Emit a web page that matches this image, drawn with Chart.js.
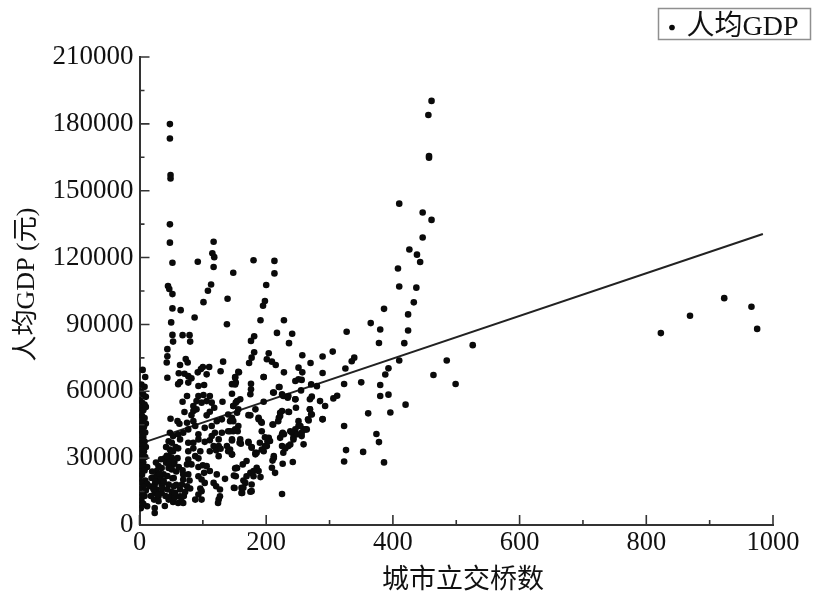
<!DOCTYPE html>
<html><head><meta charset="utf-8">
<style>html,body{margin:0;padding:0;background:#fff}#w{width:814px;height:594px}</style>
<script src="https://cdn.jsdelivr.net/npm/chart.js@4"></script>
</head><body><div id="w"><canvas id="c"></canvas></div>
<script>
const xTitle='  城市立交桥数';
const yTitle='  人均GDP (元)';
const seriesName='人均GDP';
const trendX=[0,984];
const trendY=[36400,130600];

const topX=[48,48,49,49,48,48,117,52,92,115,118,117,148,180,213,213,461,456,457,457,410,447,461,447,426,438,443,408,410,437,433,386];
const topY=[179900,173400,157000,155500,134900,126700,127100,117700,118100,121900,120200,115800,113200,118800,118500,112900,190300,184000,164800,165600,144200,140200,136900,129000,123600,121300,118000,115100,107000,106500,99900,97000];

const rightX=[823,869,923,966,975,424,365,380,424,327,378,418,526,305,289,257,339,335,270,410,485,325,393,388,289,464,350,323,380,499,280,271,312,306,380,393,272,269,285,293,420,361,396,289,269,271,266,323,374,378,326,353,323,386];
const rightY=[86100,93900,101800,97900,88000,94500,90600,87700,87300,86700,81700,81600,80700,77800,75600,76200,75100,73500,72700,73800,73800,70200,70300,67500,68200,67300,64000,63300,62800,63300,62300,63100,58000,56800,57900,58500,57600,56400,55600,53400,54000,50100,50500,47500,51900,49700,47400,44400,40800,37200,33600,32800,28500,28100];

const midX=[200,113,108,45,47,52,139,101,198,195,52,65,87,191,228,50,138,217,241,52,68,79,181,176,53,80,236,44,44,43,181,177,173,204,201,209,215,132,73,76,64,5,9,62,71,77,82,110,100,97,92,106,128,157,151,196,228,251,257,44];
const midY=[107700,107900,105100,107200,105900,103600,101500,100000,100500,98400,97200,96400,93100,91900,91900,90900,90100,86200,85800,85300,85200,85200,84700,82600,82300,82300,81600,78900,75700,72900,77500,75100,72700,77100,74400,73300,71800,73300,74500,72900,71800,69600,66400,68100,67900,66800,65800,70900,70900,70000,68500,67600,69000,68500,66400,66400,68500,70600,68500,66100];

const columnX=[3,8,2,6,10,1,4,8,2,6,10,0,4,8,1,5,10,2,7,0,4,9,1,6,3,8,0,5,10,2,7,0,4,9,2,6,12,3,1,8,4,9,0,3,12,6,0,10,4,1,8,3,6,0,2];
const columnY=[63000,62000,60000,58500,57500,56000,55000,54000,52500,51500,53000,50000,49000,48000,47000,46000,45500,44500,44000,43000,42000,41500,40500,39500,38000,37500,36500,35500,35000,34000,33000,32000,31000,30500,29000,28000,26000,26500,24000,24500,22500,20000,21000,19000,18500,17000,16000,15500,14000,12500,13000,11000,9500,9000,7500];

const lowX=[12,24,24,40,16,19,24,30,35,27,38,30,35,24,27,35,30,23,30,24,46,54,54,51,46,53,61,69,48,56,64,72,64,56,67,75,80,69,79,68,48,53,46,51,48,53,40,46,51,42,48,53,46,51,61,69,77,64,61,77,85,93,93,77,85,96,88,77,93,75,82,77,69,93,100,106,111,93,102,98,103,122,135,117,121,127,150,152,154,96,93,98,88,98,127,125,124];
const lowY=[8400,5400,7600,8500,17400,21100,21400,26400,25600,24200,22700,19700,18200,18200,15900,14400,12900,11400,10700,14400,18200,21100,17400,14800,11400,10300,9900,9900,12500,12500,12900,14800,15900,14400,18200,17400,16400,20400,20000,24500,41400,39900,37600,36900,33900,33100,29900,30900,30100,27900,28600,27200,25600,24900,40700,41400,42900,38400,34400,36900,36900,40700,38400,33100,34400,33100,30900,29400,29900,27200,27200,22700,22700,26000,26800,26400,24200,21900,23400,20400,18900,22700,20700,18900,17400,15900,16600,21900,25600,16400,13700,15200,11400,11400,12900,11400,9900];

const denseX=[20,28,33,38,22,29,36,41,25,32,18,26,34,43,47,44,50,55,58,42,38,44,57,60,62,66,70,58,52];
const denseY=[24000,22000,20500,19000,16000,13500,16500,13000,19500,23000,13000,28000,29500,31000,28000,22000,33000,28000,24000,35000,20000,16000,35000,30000,26000,12000,13000,18000,21000];

const centreX=[75,68,71,49,60,63,75,85,90,93,101,111,98,106,114,90,85,82,111,106,118,131,146,154,148,85,88,103,114,122,130,140,146,154,143,119,130,140,148,155,114,146,125,103,111,117,125,111,121,128,138,140,146,125,158,61,64,77,93,102,146,152,156,176,176,175];
const centreY=[57900,55300,50700,47700,46600,45400,45900,53400,55600,57900,58300,57900,54900,55600,54900,51900,51100,49300,50800,49200,52600,55300,58900,55600,53400,46600,44400,43600,44400,46600,47400,49600,47400,50400,46600,41400,41400,42100,42100,42100,39900,38400,38400,37300,38000,35400,35400,33100,33500,34200,35400,33100,31700,30900,36900,63200,64200,63900,62400,62800,63200,63900,68700,63400,60900,58700];

const eastX=[151,151,196,221,212,225,235,246,196,159,152,148,156,175,183,188,193,210,222,225,220,236,247,146,148,156,151,143,146,159,160,172,177,183,190,196,204,206,201,193,225,222,238,246,243,251,251,259,264,256,259,269,272,267,289,225,227,235,238,230,212,210,226,242,209,214,185,188,163,169,151,149,175,180,191,164,161,149,177,177,161,143,146,225,211,220,227,234,246,251,256,255,246,172,188,192,211,222,219,235,254,262,246,241,256,243,249,226,228,198,202,198,193,185,177,172,183,212,153,167,164,162,175,180,169];
const eastY=[66100,63100,66400,61900,59400,58600,57900,56400,55300,56400,54900,53400,51900,49200,51900,47400,45900,45100,50400,51100,48100,50700,52600,48100,46600,44400,42900,42100,37900,38400,36500,37300,35000,32400,36900,33100,39100,37700,35400,42100,40700,39100,42100,40700,38400,46600,44400,42900,42900,39900,36200,51900,49600,46900,47400,35400,32400,35400,36100,34300,30900,28900,27500,28300,25700,23400,25700,24200,27200,28700,25400,22200,23400,21900,21500,20000,16700,16700,18200,15200,14400,33900,31600,13900,59400,61900,57900,57100,64600,65400,65100,60400,56400,49300,48100,46300,45100,48900,46600,50800,44400,42900,42900,41400,41400,39200,40700,41400,40700,39400,37600,35400,33900,32400,34700,36900,31700,30100,25700,18900,16700,14400,14900,24200,21900];

const groups=[[topX,topY],[rightX,rightY],[midX,midY],[columnX,columnY],[lowX,lowY],[denseX,denseY],[centreX,centreY],[eastX,eastY]];
const points=[];
groups.forEach(([xs,ys])=>xs.forEach((x,i)=>{if(ys[i]!==undefined)points.push({x,y:ys[i]})}));
const trend=trendX.map((x,i)=>({x,y:trendY[i]}));

const INK='#111';
const SERIF='"Liberation Serif","Noto Sans CJK SC",serif';

const inwardTicks={id:'inwardTicks',afterDatasetsDraw(chart){
  const {ctx,scales:{x,y}}=chart;
  ctx.save();ctx.strokeStyle='#333';ctx.lineWidth=1.6;ctx.beginPath();
  x.ticks.forEach(t=>{const p=x.getPixelForValue(t.value);const l=t.value%200===0?10:5;
    ctx.moveTo(p,x.top);ctx.lineTo(p,x.top-l);});
  y.ticks.forEach(t=>{const p=y.getPixelForValue(t.value);const l=t.value%30000===0?10:5;
    ctx.moveTo(y.right,p);ctx.lineTo(y.right+l,p);});
  ctx.stroke();ctx.restore();
}};
const legendBox={id:'legendBox',
  afterLayout(chart){const l=chart.legend;l.left+=44.5;l.right+=44.5;l.top-=5.5;l.bottom-=5.5;},
  afterDraw(chart){
  const ctx=chart.ctx;
  ctx.save();ctx.strokeStyle='#8f8f8f';ctx.lineWidth=1.5;
  ctx.strokeRect(658.5,8.5,152,31);ctx.restore();
}};

new Chart(document.getElementById('c'),{
  type:'scatter',
  data:{datasets:[
    {label:seriesName,data:points,backgroundColor:'#0a0a0a',borderColor:'#0a0a0a',pointRadius:3.3,pointHoverRadius:3.3,borderWidth:0,pointBorderWidth:0},
    {label:'trend',data:trend,type:'line',showLine:true,borderColor:'#222',borderWidth:2,pointRadius:0,fill:false,tension:0}
  ]},
  options:{
    responsive:true,maintainAspectRatio:false,animation:false,
    layout:{padding:{left:0,right:41,top:0,bottom:0}},
    plugins:{
      tooltip:{enabled:false},
      legend:{display:true,position:'top',align:'end',
        labels:{color:INK,font:{family:SERIF,size:28},usePointStyle:true,pointStyle:'circle',boxHeight:4,boxWidth:1,padding:19,
          filter:i=>i.datasetIndex===0}}
    },
    scales:{
      x:{type:'linear',min:0,max:1000,
        afterFit(s){s.height=69},
        grid:{display:false,drawTicks:false},border:{display:true,color:'#333',width:2},
        ticks:{stepSize:100,autoSkip:false,maxRotation:0,padding:2,color:INK,font:{family:SERIF,size:26.5},
          callback:v=>v%200===0?String(v):''},
        title:{display:true,text:xTitle,color:INK,font:{family:SERIF,size:27},padding:{top:0,bottom:-3}}},
      y:{type:'linear',min:0,max:210000,
        afterFit(s){s.width=139.5},
        grid:{display:false,drawTicks:false},border:{display:true,color:'#333',width:2},
        ticks:{stepSize:15000,autoSkip:false,padding:6,color:INK,font:{family:SERIF,size:27},
          callback:v=>v%30000===0?String(v):''},
        title:{display:true,text:yTitle,color:INK,font:{family:SERIF,size:26},padding:{top:12,bottom:0}}}
    }
  },
  plugins:[inwardTicks,legendBox]
});
</script></body></html>
